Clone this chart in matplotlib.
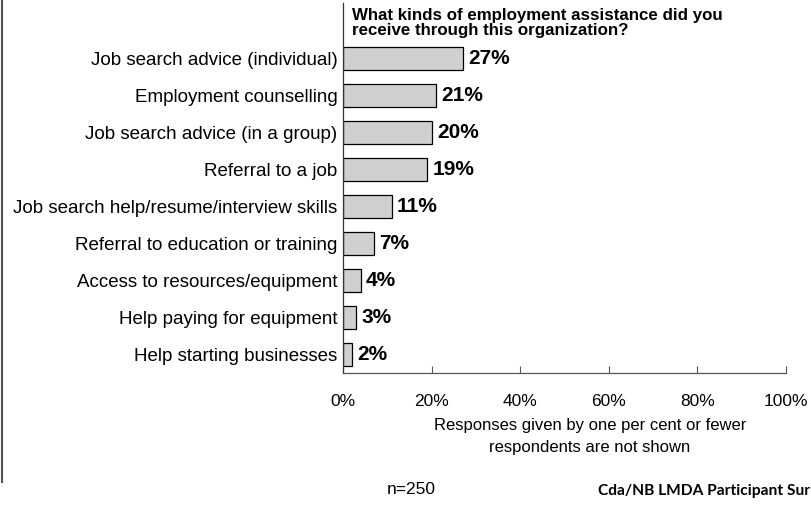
import matplotlib
matplotlib.use("Agg")
import matplotlib.pyplot as plt
from matplotlib.lines import Line2D

categories = [
    "Job search advice (individual)",
    "Employment counselling",
    "Job search advice (in a group)",
    "Referral to a job",
    "Job search help/resume/interview skills",
    "Referral to education or training",
    "Access to resources/equipment",
    "Help paying for equipment",
    "Help starting businesses",
]
values = [27, 21, 20, 19, 11, 7, 4, 3, 2]
xticks = [0, 20, 40, 60, 80, 100]
xtick_labels = ["0%", "20%", "40%", "60%", "80%", "100%"]

plt.rcParams["font.family"] = ["Liberation Sans", "DejaVu Sans"]

W, H = 811, 508
fig = plt.figure(figsize=(W / 100, H / 100), dpi=100)
ax = fig.add_axes([343 / W, 1 - 373 / H, (786 - 343) / W, (373 - 3) / H])

pos = list(range(len(categories)))
ax.barh(pos, values, height=0.6, color="#d0d0d0", edgecolor="#000000", linewidth=0.9)
for p, v in zip(pos, values):
    ax.text(v + 1.2, p, f"{v}%", va="center", ha="left", fontsize=15, fontweight="bold")

ax.set_xlim(0, 100)
ax.set_ylim(8.5, -1.5)
ax.set_yticks(pos)
ax.set_yticklabels(categories, fontsize=13.5)
ax.tick_params(axis="y", length=0, pad=4)
ax.set_xticks(xticks)
ax.set_xticklabels(xtick_labels, fontsize=12.5)
ax.tick_params(axis="x", direction="in", length=5, width=0.8, color="#555555", pad=15)
for s in ["top", "right"]:
    ax.spines[s].set_visible(False)
ax.spines["left"].set_color("#333333")
ax.spines["bottom"].set_color("#555555")
ax.spines["left"].set_linewidth(0.9)
ax.spines["bottom"].set_linewidth(0.9)

fig.text(352 / W, 1 - 23 / H,
         "What kinds of employment assistance did you\nreceive through this organization?",
         fontsize=12.2, fontweight="bold", va="center", ha="left", linespacing=1.02)

fig.text(590 / W, 1 - 436.5 / H,
         "Responses given by one per cent or fewer\nrespondents are not shown",
         fontsize=12, ha="center", va="center", linespacing=1.6)

fig.text(411 / W, 1 - 489 / H, "n=250", fontsize=12.5, ha="center", va="center")
fig.text(598 / W, 1 - 491 / H, "Cda/NB LMDA Participant Sur",
         fontsize=11.2, fontweight="bold", ha="left", va="center",
         family=["Lato", "DejaVu Sans"])

fig.add_artist(Line2D([1.5 / W, 1.5 / W], [1 - 482 / H, 1.0], transform=fig.transFigure,
                      color="#555555", linewidth=1.5))

fig.savefig("out.png", dpi=100)
